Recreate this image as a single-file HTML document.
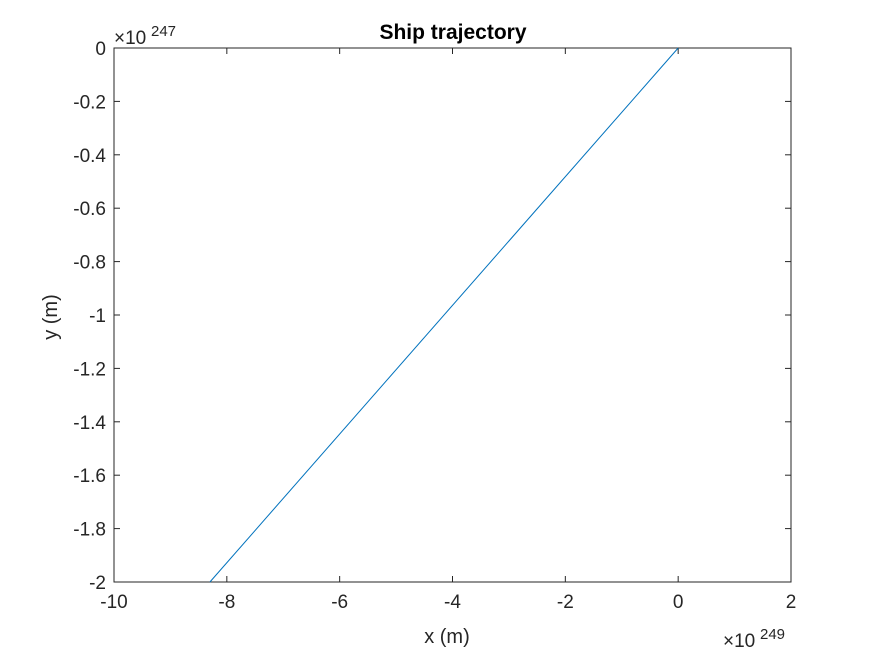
<!DOCTYPE html>
<html><head><meta charset="utf-8"><style>
body{margin:0;background:#fff;}
svg{display:block;font-family:"Liberation Sans",Arial,sans-serif;}
</style></head><body>
<svg id="chart" width="875" height="656"></svg>
<script>
const xTicks=[-10,-8,-6,-4,-2,0,2];
const yTicks=[0,-0.2,-0.4,-0.6,-0.8,-1,-1.2,-1.4,-1.6,-1.8,-2];
const yTickLabels=["0","-0.2","-0.4","-0.6","-0.8","-1","-1.2","-1.4","-1.6","-1.8","-2"];
const trajX=[0,-8.3];
const trajY=[0,-2];
const L=114,R=791,T=48,B=582;
const xMin=-10,xMax=2,yMin=-2,yMax=0;
const sx=v=>L+(v-xMin)/(xMax-xMin)*(R-L);
const sy=v=>B-(v-yMin)/(yMax-yMin)*(B-T);
const svg=document.getElementById('chart');
const NS='http://www.w3.org/2000/svg';
function mk(tag,attrs,text){const e=document.createElementNS(NS,tag);for(const k in attrs)e.setAttribute(k,attrs[k]);if(text!==undefined)e.textContent=text;svg.appendChild(e);return e;}
let e;
e=mk('rect',{x:L,y:T,width:R-L,height:B-T,fill:'#fff',stroke:'#262626','stroke-width':1});


xTicks.forEach(v=>{
 const x=sx(v);
 e=mk('line',{x1:x,x2:x,y1:B,y2:B-6,stroke:'#262626'});
 
 
 e=mk('line',{x1:x,x2:x,y1:T,y2:T+6,stroke:'#262626'});
 
 
 e=mk('text',{x:x,y:B+26,'text-anchor':'middle','font-size':19,fill:'#262626'},String(v));
 
 
});
yTicks.forEach((v,i)=>{
 const y=sy(v);
 e=mk('line',{x1:L,x2:L+6,y1:y,y2:y,stroke:'#262626'});
 
 
 e=mk('line',{x1:R,x2:R-6,y1:y,y2:y,stroke:'#262626'});
 
 
 e=mk('text',{x:L-8,y:y+7,'text-anchor':'end','font-size':19,fill:'#262626'},yTickLabels[i]);
 
 
});
e=mk('polyline',{points:trajX.map((x,i)=>sx(x)+','+sy(trajY[i])).join(' '),fill:'none',stroke:'#0072bd','stroke-width':1});


e=mk('text',{x:453,y:39,'text-anchor':'middle','font-size':21,'font-weight':'bold',fill:'#000'},'Ship trajectory');


e=mk('text',{x:447,y:643,'text-anchor':'middle','font-size':20,fill:'#262626'},'x (m)');


e=mk('text',{x:57,y:317,'text-anchor':'middle','font-size':20,fill:'#262626',transform:'rotate(-90 57 317)'},'y (m)');


e=mk('text',{x:114,y:44,'font-size':19,fill:'#262626'},'×10');


e=mk('text',{x:151,y:36,'font-size':15,fill:'#262626'},'247');


e=mk('text',{x:723,y:647,'font-size':19,fill:'#262626'},'×10');


e=mk('text',{x:760,y:639,'font-size':15,fill:'#262626'},'249');


</script>
</body></html>
